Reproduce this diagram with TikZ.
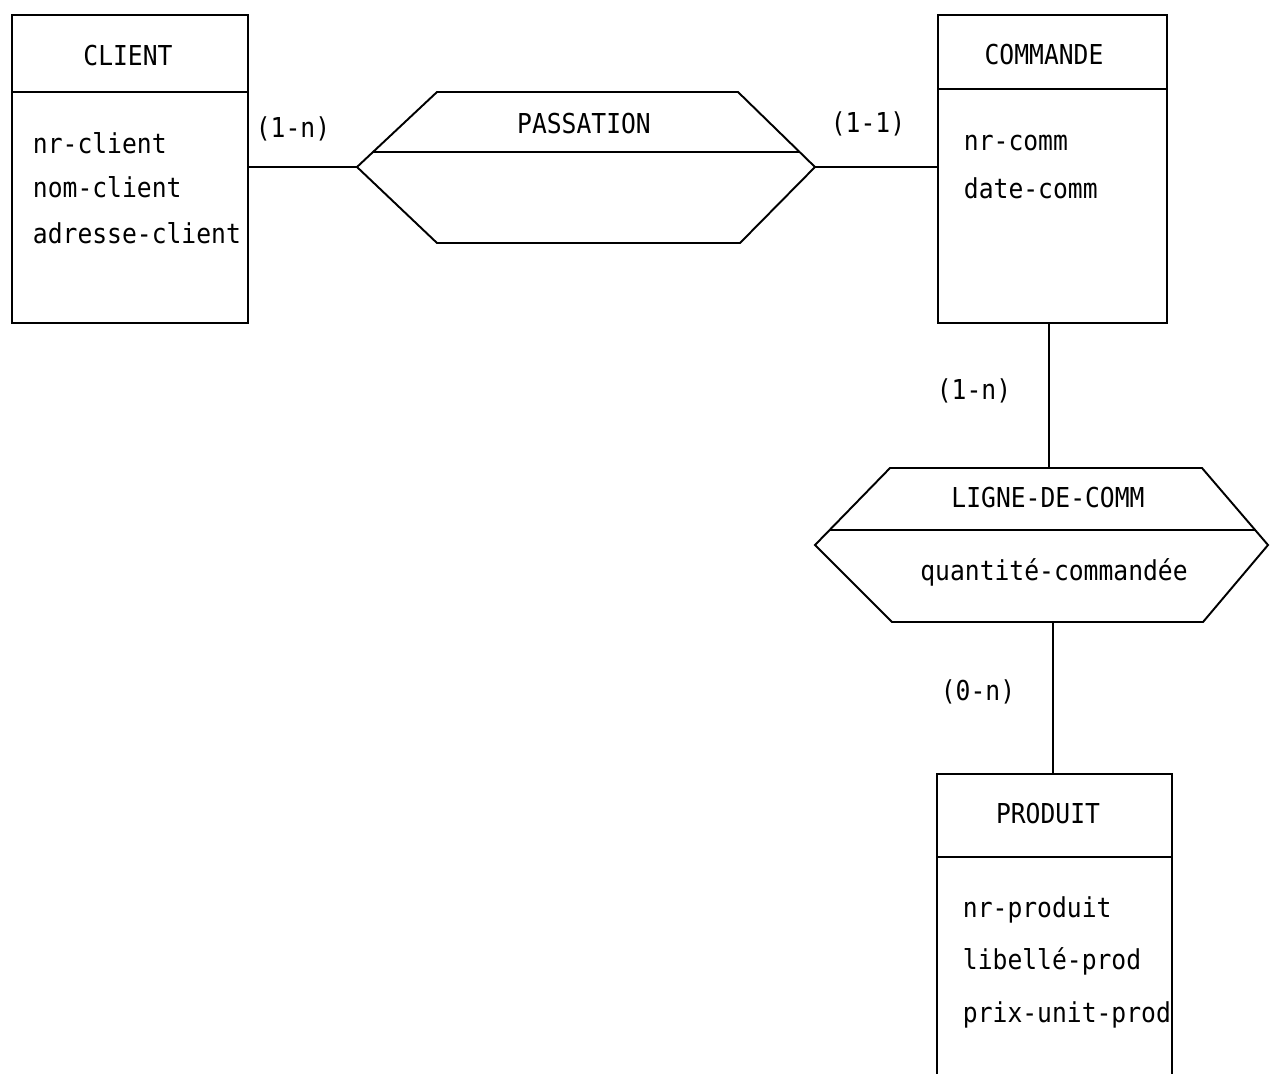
\documentclass[tikz,border=0pt]{standalone}
\usepackage{fontspec}
\setmainfont[FakeStretch=0.9]{DejaVu Sans Mono}
\usetikzlibrary{calc}

\begin{document}
\begin{tikzpicture}[x=0.02cm,y=-0.02cm,line width=1.1pt,
                    every node/.style={font=\fontsize{15.6pt}{18pt}\selectfont},
                    entite/.style={draw,inner sep=0pt,minimum height=6.16cm},
                    attr/.style={anchor=base west,inner sep=0pt},
                    titre/.style={anchor=base,inner sep=0pt}]
\path[use as bounding box,clip] (0,0) rectangle (1270,1073);
\node[entite,minimum width=4.72cm] (client) at (130,169) {};
\node[entite,minimum width=4.58cm] (commande) at (1052.5,169) {};
\node[entite,minimum width=4.7cm,minimum height=6.72cm] (produit) at (1054.5,942) {};
\foreach \b/\h in {client/92,commande/89,produit/857}
  \draw (\b.west |- 0,\h) -- (\b.east |- 0,\h);

\node[titre] (client-t) at (128,65) {CLIENT};
\node[attr] (nr-client) at (32,153) {nr-client};
\node[attr] (nom-client) at (32,197) {nom-client};
\node[attr] (adr-client) at (32,243) {adresse-client};

\node[titre] (commande-t) at (1044,64) {COMMANDE};
\node[attr] (nr-comm) at (963,150) {nr-comm};
\node[attr] (date-comm) at (963,198) {date-comm};

\node[titre] (produit-t) at (1048,823) {PRODUIT};
\node[attr] (nr-prod) at (962,917) {nr-produit};
\node[attr] (lib-prod) at (962,969) {libellé-prod};
\node[attr] (prix-prod) at (962,1022) {prix-unit-prod};

\draw (357,167) coordinate (pas-w) -- (437,92) -- (738,92) -- (815,167) coordinate (pas-e)
  -- (740,243) -- (437,243) -- cycle;
\draw (373,152) -- (799,152);
\node[titre] (passation) at (584,133) {PASSATION};

\draw (815,545) coordinate (lig-w) -- (890,468) coordinate (lig-nw) -- (1202,468) -- (1268,545)
  -- (1203,622) -- (892,622) -- cycle;
\coordinate (lig-n) at (1049,468);
\coordinate (lig-s) at (1053,622);
\draw (830,530) -- (1255,530);
\node[titre] (ligne) at (1048,507) {LIGNE-DE-COMM};
\node[titre] (quantite) at (1054,580) {quantité-commandée};

\draw (client.east |- pas-w) -- (pas-w);
\draw (pas-e) -- (commande.west |- pas-e);
\draw (commande.south -| lig-n) -- (lig-n);
\draw (lig-s) -- (produit.north -| lig-s);

\node[titre] (c1) at (293,137) {(1-n)};
\node[titre] (c2) at (868,132) {(1-1)};
\node[titre] (c3) at (974,399) {(1-n)};
\node[titre] (c4) at (978,700) {(0-n)};
\end{tikzpicture}
\end{document}
